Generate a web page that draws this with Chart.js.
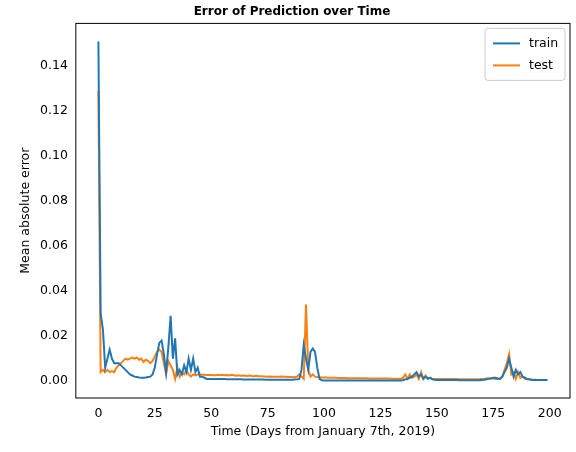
<!DOCTYPE html>
<html>
<head>
<script src="https://cdn.jsdelivr.net/npm/chart.js@4"></script>
<style>body{margin:0;background:#fff}</style>
</head>
<body>
<canvas id="c" width="576" height="452"></canvas>
<script>
const trainErr = [
  0.151,0.03,0.023,0.006,0.01,0.014,0.01,0.008,0.008,0.008,
  0.007,0.006,0.005,0.004,0.003,0.0025,0.002,0.0018,0.0016,0.0015,
  0.0015,0.0016,0.0018,0.002,0.003,0.006,0.012,0.017,0.018,0.012,
  0.004,0.015,0.029,0.01,0.019,0.003,0.005,0.003,0.007,0.004,
  0.01,0.005,0.01,0.004,0.006,0.002,0.002,0.0015,0.001,0.001,
  0.001,0.001,0.001,0.0009,0.0009,0.0009,0.0009,0.0008,0.0008,0.0008,
  0.0008,0.0008,0.0008,0.0008,0.0007,0.0007,0.0007,0.0007,0.0007,0.0007,
  0.0007,0.0007,0.0007,0.0007,0.0006,0.0006,0.0006,0.0006,0.0006,0.0006,
  0.0006,0.0006,0.0006,0.0006,0.0006,0.0006,0.0006,0.0007,0.0008,0.001,
  0.005,0.016,0.01,0.005,0.013,0.0145,0.013,0.006,0.001,0.0004,
  0.0003,0.0003,0.0003,0.0003,0.0003,0.0003,0.0003,0.0003,0.0003,0.0003,
  0.0003,0.0003,0.0003,0.0003,0.0003,0.0003,0.0003,0.0003,0.0003,0.0003,
  0.0003,0.0003,0.0003,0.0003,0.0003,0.0003,0.0003,0.0003,0.0003,0.0003,
  0.0003,0.0003,0.0003,0.0003,0.0003,0.0004,0.0008,0.001,0.0015,0.002,
  0.003,0.004,0.002,0.003,0.001,0.002,0.001,0.0015,0.0008,0.0006,
  0.0005,0.0005,0.0005,0.0005,0.0005,0.0005,0.0005,0.0005,0.0005,0.0005,
  0.0004,0.0004,0.0004,0.0004,0.0004,0.0004,0.0004,0.0004,0.0004,0.0004,
  0.0005,0.0006,0.0008,0.001,0.0012,0.0015,0.0015,0.0012,0.001,0.002,
  0.004,0.006,0.01,0.006,0.002,0.005,0.003,0.004,0.002,0.0015,
  0.001,0.0008,0.0006,0.0005,0.0005,0.0005,0.0005,0.0005,0.0005,0.0005
];
const testErr = [
  0.129,0.004,0.005,0.004,0.005,0.004,0.0045,0.004,0.006,0.007,
  0.008,0.009,0.01,0.0095,0.01,0.0105,0.01,0.0105,0.0095,0.01,
  0.0085,0.0095,0.009,0.008,0.009,0.011,0.013,0.014,0.013,0.008,
  0.003,0.009,0.007,0.005,0.001,0.006,0.002,0.004,0.003,0.005,
  0.003,0.002,0.003,0.0025,0.003,0.003,0.0028,0.0028,0.0027,0.0027,
  0.0027,0.0026,0.0026,0.0028,0.0026,0.0028,0.0026,0.0027,0.0025,0.0028,
  0.0026,0.0024,0.0026,0.0024,0.0025,0.0024,0.0023,0.0025,0.0023,0.0022,
  0.0024,0.0022,0.0022,0.0021,0.0021,0.002,0.0021,0.002,0.002,0.002,
  0.0019,0.002,0.0019,0.0019,0.0018,0.0018,0.0018,0.0017,0.002,0.003,
  0.002,0.001,0.034,0.005,0.002,0.003,0.002,0.0018,0.0017,0.0016,
  0.0016,0.0016,0.0015,0.0015,0.0015,0.0015,0.0014,0.0014,0.0014,0.0014,
  0.0013,0.0013,0.0013,0.0013,0.0013,0.0013,0.0013,0.0013,0.0013,0.0013,
  0.0012,0.0012,0.0012,0.0012,0.0012,0.0012,0.0012,0.0012,0.0012,0.0012,
  0.0011,0.0011,0.0011,0.0011,0.001,0.0015,0.003,0.001,0.003,0.0015,
  0.002,0.003,0.001,0.004,0.001,0.0025,0.0012,0.0015,0.001,0.001,
  0.0009,0.0009,0.0009,0.0009,0.0009,0.0009,0.0009,0.0009,0.0009,0.0009,
  0.0008,0.0008,0.0008,0.0008,0.0008,0.0008,0.0008,0.0008,0.0008,0.0008,
  0.0009,0.001,0.0012,0.0013,0.0013,0.0012,0.001,0.001,0.0012,0.002,
  0.005,0.008,0.012,0.003,0.004,0.001,0.004,0.0015,0.002,0.001,
  0.0008,0.0007,0.0006,0.0006,0.0005,0.0005,0.0005,0.0005,0.0005,0.0005
];
const days = trainErr.map((_, i) => i);
const xTicks = [0, 25, 50, 75, 100, 125, 150, 175, 200];
const yTicks = [0, 0.02, 0.04, 0.06, 0.08, 0.1, 0.12, 0.14];

const font = { family: "DejaVu Sans", size: 12.5 };
Chart.defaults.color = "#000";

// axes frame + legend box like matplotlib
const framePlugin = {
  id: "frame",
  afterDraw(chart) {
    const { ctx, chartArea: a } = chart;
    ctx.save();
    ctx.strokeStyle = "#000";
    ctx.lineWidth = 1;
    ctx.strokeRect(a.left, a.top, a.right - a.left, a.bottom - a.top);
    // legend
    const lx = a.right - 85, ly = a.top + 5, lw = 80, lh = 52;
    ctx.fillStyle = "rgba(255,255,255,0.8)";
    ctx.strokeStyle = "#ccc";
    ctx.beginPath();
    ctx.roundRect(lx, ly, lw, lh, 3);
    ctx.fill();
    ctx.stroke();
    const items = [["train", "#1f77b4"], ["test", "#ff7f0e"]];
    ctx.font = "12.5px 'DejaVu Sans'";
    ctx.textBaseline = "middle";
    items.forEach(([t, c], i) => {
      const yy = ly + 15 + i * 22;
      ctx.strokeStyle = c;
      ctx.lineWidth = 2;
      ctx.beginPath();
      ctx.moveTo(lx + 8, yy);
      ctx.lineTo(lx + 35, yy);
      ctx.stroke();
      ctx.fillStyle = "#000";
      ctx.fillText(t, lx + 44, yy);
    });
    ctx.restore();
  },
};

new Chart(document.getElementById("c"), {
  type: "line",
  data: {
    labels: days,
    datasets: [
      { label: "train", data: days.map((d, i) => ({ x: d, y: trainErr[i] })), borderColor: "#1f77b4", borderWidth: 2, pointRadius: 0, tension: 0 },
      { label: "test", data: days.map((d, i) => ({ x: d, y: testErr[i] })), borderColor: "#ff7f0e", borderWidth: 2, pointRadius: 0, tension: 0 },
    ],
  },
  options: {
    responsive: false,
    animation: false,
    layout: { padding: { left: 14, right: 6, top: 0, bottom: 9 } },
    plugins: {
      legend: { display: false },
      tooltip: { enabled: false },
      title: {
        display: true,
        text: "Error of Prediction over Time",
        font: { family: "DejaVu Sans", size: 12, weight: "bold" },
        padding: { top: 5, bottom: 4 },
      },
    },
    scales: {
      x: {
        type: "linear",
        min: -10,
        max: 209,
        afterBuildTicks: (s) => { s.ticks = xTicks.map((v) => ({ value: v })); },
        ticks: { font, padding: 3 },
        grid: { display: false, drawTicks: true, tickLength: 5, tickColor: "#000" },
        border: { display: false },
        title: { display: true, text: "Time (Days from January 7th, 2019)", font, padding: { top: 0 } },
      },
      y: {
        min: -0.0075,
        max: 0.159,
        afterBuildTicks: (s) => { s.ticks = yTicks.map((v) => ({ value: v })); },
        ticks: { font, padding: 3, callback: (v) => v.toFixed(2) },
        grid: { display: false, drawTicks: true, tickLength: 5, tickColor: "#000" },
        border: { display: false },
        title: { display: true, text: "Mean absolute error", font, padding: { bottom: 4 } },
      },
    },
  },
  plugins: [framePlugin],
});
</script>
</body>
</html>
